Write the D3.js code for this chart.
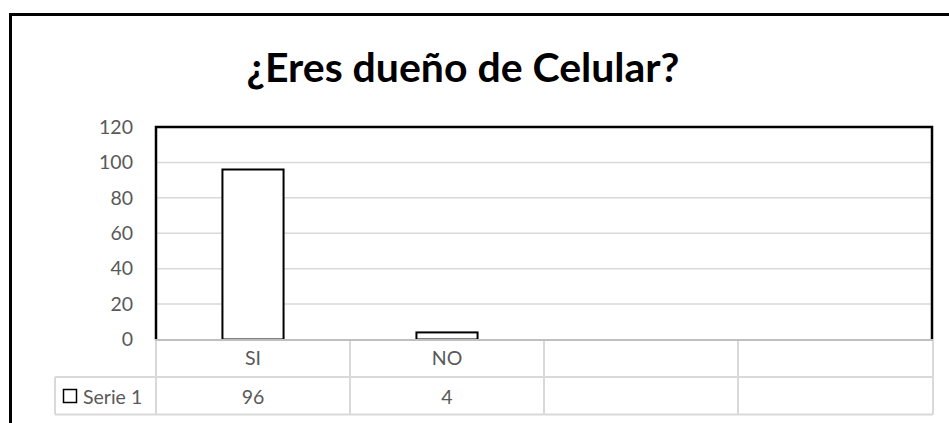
<!DOCTYPE html>
<html lang="es">
<head>
	<meta charset="utf-8">
	<title>¿Eres dueño de Celular?</title>
	<script src="https://d3js.org/d3.v7.min.js"></script>
	<style>
	html, body { margin: 0; padding: 0; background: #fff; overflow: hidden; }
	svg { display: block; }
	text { font-family: Lato, "Open Sans", sans-serif; }
	</style>
</head>
<body>
	<div id="chart"></div>
	<script>
		// data
		let categories = ["SI", "NO", "", ""];
		let serie1 = [96, 4, null, null];
		let seriesName = "Serie 1";
		let yTicks = [0, 20, 40, 60, 80, 100, 120];
		let chartTitle = "¿Eres dueño de Celular?";

		let width = 949, height = 423;
		// plot area
		let plotLeft = 156, plotRight = 932, plotTop = 127, plotBottom = 339.5;
		let rowH = 37.5;
		let grey = "#595959";
		let labelSize = "19.5px";

		let svg = d3.select("#chart")
			.append("svg")
			.attr("width", width)
			.attr("height", height);

		// outer chart frame: only the left and top edges fall inside the picture
		svg.append("path")
			.attr("d", "M10.5," + height + "V14.5H" + width)
			.attr("fill", "none")
			.attr("stroke", "#000")
			.attr("stroke-width", 3);

		// title
		let t = svg.append("text")
			.attr("x", 463).attr("y", 82)
			.attr("text-anchor", "middle")
			.style("font-weight", "bold")
			.style("font-size", "34px")
			.attr("fill", "#000")
			.text(chartTitle);
		let tl = t.node().getComputedTextLength();
		t.style("font-size", (34 * 433 / tl) + "px");

		let x = d3.scaleBand()
			.domain(d3.range(categories.length))
			.range([plotLeft, plotRight])
			.paddingInner(0)
			.paddingOuter(0);

		let y = d3.scaleLinear()
			.domain([0, 120])
			.range([plotBottom, plotTop]);

		// gridlines
		svg.append("g")
			.selectAll("line")
			.data(yTicks.filter(d => d > 0 && d < 120))
			.enter()
			.append("line")
			.attr("x1", plotLeft).attr("x2", plotRight)
			.attr("y1", d => y(d)).attr("y2", d => y(d))
			.attr("stroke", "#d9d9d9")
			.attr("stroke-width", 1.5);

		// y axis labels
		let yAxis = svg.append("g")
			.attr("transform", "translate(" + (plotLeft - 23) + ",0)")
			.call(d3.axisLeft(y).tickValues(yTicks).tickSize(0).tickPadding(0));
		yAxis.select(".domain").remove();
		yAxis.selectAll("text")
			.style("font-family", "Lato, 'Open Sans', sans-serif")
			.style("font-size", labelSize)
			.attr("fill", grey);

		// bars
		let barW = x.bandwidth() * 0.315;
		svg.append("g")
			.selectAll("rect")
			.data(serie1.map((v, i) => ({ i: i, v: v })).filter(d => d.v != null))
			.enter()
			.append("rect")
			.attr("x", d => x(d.i) + (x.bandwidth() - barW) / 2)
			.attr("y", d => y(d.v))
			.attr("width", barW)
			.attr("height", d => y(0) - y(d.v))
			.attr("fill", "#fff")
			.attr("stroke", "#000")
			.attr("stroke-width", 2);

		// plot area border (top, right, left)
		svg.append("path")
			.attr("d", "M" + plotLeft + "," + plotBottom + "V" + plotTop + "H" + plotRight + "V" + plotBottom)
			.attr("fill", "none")
			.attr("stroke", "#000")
			.attr("stroke-width", 2.5);

		// data table
		let tbl = svg.append("g");
		let lineCol = "#d9d9d9";
		let r1 = plotBottom + rowH, r2 = plotBottom + rowH * 2;
		// horizontal lines
		tbl.append("line").attr("x1", 55).attr("x2", plotRight + 1).attr("y1", r1).attr("y2", r1)
			.attr("stroke", lineCol).attr("stroke-width", 2);
		tbl.append("line").attr("x1", 55).attr("x2", plotRight + 1).attr("y1", r2).attr("y2", r2)
			.attr("stroke", lineCol).attr("stroke-width", 2);
		tbl.append("line").attr("x1", 55).attr("x2", 55).attr("y1", r1).attr("y2", r2)
			.attr("stroke", lineCol).attr("stroke-width", 2);
		// vertical lines at the category edges
		let edges = d3.range(categories.length).map(i => x(i)).concat([plotRight + 1]);
		tbl.selectAll("line.v")
			.data(edges)
			.enter()
			.append("line")
			.attr("class", "v")
			.attr("x1", d => d).attr("x2", d => d)
			.attr("y1", plotBottom).attr("y2", r2)
			.attr("stroke", lineCol)
			.attr("stroke-width", 2);
		// axis line
		tbl.append("line").attr("x1", plotLeft - 1).attr("x2", plotRight + 1)
			.attr("y1", plotBottom + 0.5).attr("y2", plotBottom + 0.5)
			.attr("stroke", "#bfbfbf").attr("stroke-width", 2);

		// category labels
		tbl.selectAll("text.cat")
			.data(categories)
			.enter()
			.append("text")
			.attr("class", "cat")
			.attr("x", (d, i) => x(i) + x.bandwidth() / 2)
			.attr("y", plotBottom + 25.5)
			.attr("text-anchor", "middle")
			.style("font-size", labelSize)
			.attr("fill", grey)
			.text(d => d);
		// values
		tbl.selectAll("text.val")
			.data(serie1)
			.enter()
			.append("text")
			.attr("class", "val")
			.attr("x", (d, i) => x(i) + x.bandwidth() / 2)
			.attr("y", r1 + 26.5)
			.attr("text-anchor", "middle")
			.style("font-size", labelSize)
			.attr("fill", grey)
			.text(d => d == null ? "" : d);
		// legend key + series name
		tbl.append("rect")
			.attr("x", 63.5).attr("y", 389.5)
			.attr("width", 13).attr("height", 13)
			.attr("fill", "#fff")
			.attr("stroke", "#000")
			.attr("stroke-width", 1.5);
		tbl.append("text")
			.attr("x", 83).attr("y", r1 + 26.5)
			.style("font-size", labelSize)
			.attr("fill", grey)
			.text(seriesName);
	</script>
</body>
</html>
